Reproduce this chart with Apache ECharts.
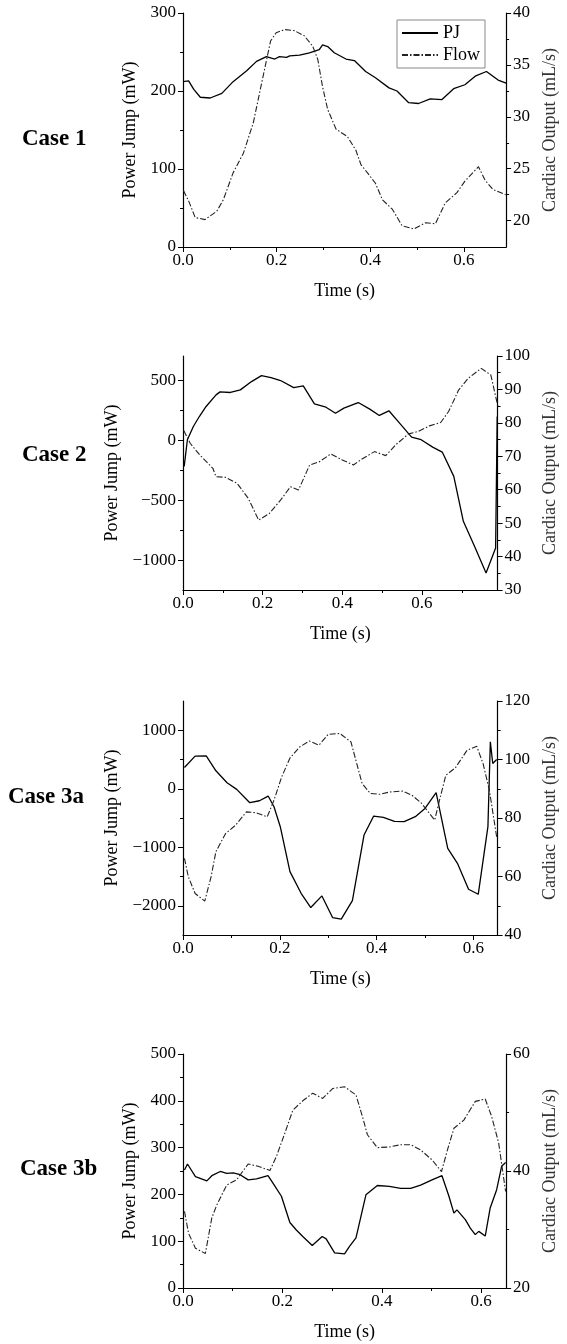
<!DOCTYPE html>
<html>
<head>
<meta charset="utf-8">
<script src="https://cdn.jsdelivr.net/npm/echarts@6/dist/echarts.min.js"></script>
<style>
html,body{margin:0;padding:0;background:#fff;}
#chart{width:567px;height:1344px;}
</style>
</head>
<body>
<div id="chart"></div>
<script>
// ---------- DATA ----------
const caseLabels = ['Case 1', 'Case 2', 'Case 3a', 'Case 3b'];

const case1PjTime = [0,0.012,0.023,0.037,0.058,0.083,0.107,0.136,0.157,0.178,0.196,0.206,0.221,0.228,0.249,0.27,0.291,0.298,0.309,0.323,0.348,0.366,0.39,0.411,0.44,0.457,0.482,0.503,0.528,0.553,0.578,0.602,0.624,0.648,0.673,0.69];
const case1Pj = [212,213,202,192,191,197,212,226,238,244,241,244,243,245,246,249,253,259,257,249,241,239,225,217,204,200,185,184,190,189,203,208,219,225,214,210];
const case1FlowTime = [0.001,0.012,0.026,0.047,0.072,0.086,0.107,0.129,0.15,0.171,0.187,0.199,0.217,0.238,0.259,0.277,0.288,0.298,0.309,0.327,0.351,0.369,0.38,0.394,0.411,0.426,0.447,0.468,0.493,0.518,0.539,0.56,0.585,0.602,0.631,0.645,0.662,0.689];
const case1Flow = [22.9,21.9,20.3,20.1,20.9,22.0,24.6,26.5,29.4,33.9,37.3,38.1,38.4,38.3,37.8,36.8,35.5,32.9,30.7,28.8,28.1,26.8,25.4,24.6,23.6,22.0,21.1,19.5,19.2,19.8,19.7,21.7,22.7,23.8,25.2,23.9,23.0,22.5];

const case2PjTime = [0.003,0.011,0.026,0.041,0.058,0.083,0.093,0.119,0.144,0.172,0.197,0.221,0.245,0.278,0.302,0.330,0.359,0.383,0.404,0.44,0.469,0.493,0.517,0.546,0.574,0.598,0.627,0.651,0.68,0.704,0.732,0.761,0.785,0.789];
const case2Pj = [-217,6,117,200,284,381,406,401,423,492,542,526,501,442,456,306,278,228,270,317,262,209,248,136,28,6,-56,-97,-300,-676,-885,-1107,-899,200];
const case2FlowTime = [0.002,0.018,0.042,0.075,0.083,0.107,0.136,0.164,0.19,0.217,0.245,0.27,0.29,0.318,0.343,0.371,0.4,0.428,0.448,0.481,0.509,0.534,0.566,0.59,0.619,0.647,0.667,0.692,0.716,0.749,0.773,0.791];
const case2Flow = [77.7,73.9,70.4,66.4,63.9,63.7,61.9,57.4,50.9,52.9,56.9,60.9,59.9,67.4,68.4,70.7,68.9,67.4,69.1,71.4,70.2,73.4,76.7,77.4,79.1,80.1,83.4,89.8,93.3,96.3,94.3,84.8];

const case3aPjTime = [0.003,0.025,0.048,0.068,0.091,0.111,0.138,0.158,0.176,0.188,0.201,0.221,0.244,0.264,0.287,0.309,0.327,0.35,0.374,0.394,0.414,0.437,0.457,0.48,0.5,0.523,0.547,0.567,0.59,0.61,0.63,0.635,0.64,0.648];
const case3aPj = [364,558,563,307,102,-11,-239,-205,-125,-307,-649,-1417,-1787,-2031,-1832,-2202,-2230,-1912,-791,-467,-489,-558,-563,-478,-336,-68,-1019,-1275,-1718,-1804,-649,802,432,500];
const case3aFlowTime = [0.003,0.011,0.025,0.045,0.058,0.068,0.088,0.109,0.131,0.151,0.174,0.188,0.204,0.221,0.241,0.261,0.281,0.3,0.324,0.347,0.36,0.37,0.387,0.407,0.427,0.454,0.473,0.493,0.52,0.53,0.543,0.563,0.587,0.607,0.62,0.633,0.648];
const case3aFlow = [66.2,59.9,54.2,51.6,59.9,68.5,74.7,77.6,82.1,81.8,80.4,86.1,94.1,100.5,104.3,106.3,104.9,108.6,108.9,106.0,98.0,91.8,88.4,88.1,88.9,89.2,87.8,85.0,79.3,86.1,94.6,97.2,103.2,104.5,98.6,89.5,73.6];

const case3bPjTime = [0.003,0.009,0.025,0.048,0.058,0.075,0.088,0.101,0.115,0.131,0.148,0.171,0.181,0.198,0.215,0.228,0.241,0.26,0.28,0.288,0.305,0.325,0.335,0.348,0.358,0.368,0.391,0.415,0.438,0.458,0.478,0.501,0.521,0.535,0.545,0.551,0.568,0.578,0.588,0.595,0.608,0.618,0.631,0.641,0.649];
const case3bPj = [252,265,238,229,240,249,245,246,242,231,233,240,224,196,140,124,110,91,110,105,75,73,89,107,153,199,219,217,213,213,220,231,240,196,160,167,146,128,114,121,111,171,210,260,268];
const case3bFlowTime = [0.003,0.011,0.025,0.045,0.058,0.068,0.088,0.108,0.131,0.151,0.175,0.188,0.205,0.221,0.241,0.261,0.281,0.301,0.325,0.348,0.361,0.371,0.391,0.415,0.438,0.458,0.478,0.501,0.52,0.531,0.545,0.565,0.588,0.608,0.621,0.635,0.649];
const case3bFlow = [33.1,29.4,26.8,25.9,32.0,34.2,37.6,38.5,41.2,40.8,40.1,42.5,46.5,50.4,52.0,53.3,52.4,54.1,54.4,53.0,49.3,46.2,44.0,44.1,44.5,44.5,43.6,41.9,39.9,43.3,47.3,48.7,51.9,52.3,49.3,44.8,36.5];

// axis ranges and ticks
const timeMax = [0.69, 0.79, 0.65, 0.65];
const timeTicks = [0, 0.2, 0.4, 0.6];
const timeMinorTicks = [[0.1,0.3,0.5],[0.1,0.3,0.5,0.7],[0.1,0.3,0.5],[0.1,0.3,0.5]];

const pjRange = [[0,300],[-1250,706],[-2500,1500],[0,500]];
const pjTicks = [[0,100,200,300],[-1000,-500,0,500],[-2000,-1000,0,1000],[0,100,200,300,400,500]];
const pjMinorTicks = [[50,150,250],[-750,-250,250],[-1500,-500,500],[50,150,250,350,450]];

const flowRange = [[17.46,40],[30,100],[40,120],[20,60]];
const flowTicks = [[20,25,30,35,40],[30,40,50,60,70,80,90,100],[40,60,80,100,120],[20,40,60]];
const flowMinorTicks = [[22.5,27.5,32.5,37.5],[35,45,55,65,75,85,95],[50,70,90,110],[30,50]];

const pjTimes = [case1PjTime, case2PjTime, case3aPjTime, case3bPjTime];
const pjValues = [case1Pj, case2Pj, case3aPj, case3bPj];
const flowTimes = [case1FlowTime, case2FlowTime, case3aFlowTime, case3bFlowTime];
const flowValues = [case1Flow, case2Flow, case3aFlow, case3bFlow];

// ---------- LAYOUT ----------
const FONT = '"Liberation Serif", "Times New Roman", serif';
const gridTops = [13, 356, 701, 1054];
const caseLabelY = [140, 456, 798, 1170];
const caseLabelX = [22, 22, 8, 20];

const zip = (a, b) => a.map((v, i) => [v, b[i]]);
const minus = v => String(v).replace('-', '\u2212');

const grid = [], xAxis = [], yAxis = [], series = [], graphic = [];
for (let i = 0; i < 4; i++) {
  grid.push({left: 183, top: gridTops[i], width: 325, height: 234, containLabel: false});
  const line = {show: true, onZero: false, lineStyle: {color: '#000', width: 1.2}};
  // main x
  xAxis.push({
    type: 'value', gridIndex: i, position: 'bottom', min: 0, max: timeMax[i],
    name: 'Time (s)', nameLocation: 'middle', nameGap: 35,
    nameTextStyle: {fontFamily: FONT, fontSize: 18, color: '#000'},
    axisLine: line,
    axisTick: {show: true, length: 5, customValues: timeTicks, lineStyle: {color: '#000', width: 1}},
    axisLabel: {customValues: timeTicks, fontFamily: FONT, fontSize: 17, color: '#000', margin: 5,
      formatter: v => v.toFixed(1)},
    splitLine: {show: false}
  });
  // minor x
  xAxis.push({
    type: 'value', gridIndex: i, position: 'bottom', min: 0, max: timeMax[i],
    axisLine: {show: false, onZero: false},
    axisTick: {show: true, length: 3, customValues: timeMinorTicks[i], lineStyle: {color: '#000', width: 1}},
    axisLabel: {show: false}, splitLine: {show: false}
  });
  // main left
  yAxis.push({
    type: 'value', gridIndex: i, position: 'left', min: pjRange[i][0], max: pjRange[i][1],
    name: 'Power Jump (mW)', nameLocation: 'middle', nameGap: 35, nameRotate: 90,
    nameTextStyle: {fontFamily: FONT, fontSize: 18, color: '#000'},
    axisLine: line,
    axisTick: {show: true, length: 5, customValues: pjTicks[i], lineStyle: {color: '#000', width: 1}},
    axisLabel: {customValues: pjTicks[i], fontFamily: FONT, fontSize: 17, color: '#000', margin: 7,
      formatter: v => minus(v)},
    splitLine: {show: false}
  });
  // minor left
  yAxis.push({
    type: 'value', gridIndex: i, position: 'left', min: pjRange[i][0], max: pjRange[i][1],
    axisLine: {show: false, onZero: false},
    axisTick: {show: true, length: 3, customValues: pjMinorTicks[i], lineStyle: {color: '#000', width: 1}},
    axisLabel: {show: false}, splitLine: {show: false}
  });
  // main right
  yAxis.push({
    type: 'value', gridIndex: i, position: 'right', min: flowRange[i][0], max: flowRange[i][1],
    name: 'Cardiac Output (mL/s)', nameLocation: 'middle', nameGap: 31, nameRotate: 90,
    nameTextStyle: {fontFamily: FONT, fontSize: 18, color: '#333'},
    axisLine: line,
    axisTick: {show: true, length: 5, customValues: flowTicks[i], lineStyle: {color: '#000', width: 1}},
    axisLabel: {customValues: flowTicks[i], fontFamily: FONT, fontSize: 17, color: '#000', margin: 7},
    splitLine: {show: false}
  });
  // minor right
  yAxis.push({
    type: 'value', gridIndex: i, position: 'right', min: flowRange[i][0], max: flowRange[i][1],
    axisLine: {show: false, onZero: false},
    axisTick: {show: true, length: 3, customValues: flowMinorTicks[i], lineStyle: {color: '#000', width: 1}},
    axisLabel: {show: false}, splitLine: {show: false}
  });

  series.push({
    name: 'PJ', type: 'line', xAxisIndex: 2 * i, yAxisIndex: 4 * i,
    data: zip(pjTimes[i], pjValues[i]), symbol: 'none', smooth: false,
    lineStyle: {color: '#000', width: 1.3}, itemStyle: {color: '#000'}
  });
  series.push({
    name: 'Flow', type: 'line', xAxisIndex: 2 * i, yAxisIndex: 4 * i + 2,
    data: zip(flowTimes[i], flowValues[i]), symbol: 'none', smooth: false,
    lineStyle: {color: '#222', width: 1.1, type: [6, 2, 1.5, 2]}, itemStyle: {color: '#222'}
  });

  graphic.push({
    type: 'text', left: caseLabelX[i], top: caseLabelY[i] - 12,
    style: {text: caseLabels[i], font: 'bold 23px ' + FONT, fill: '#000'}
  });
}

const chart = echarts.init(document.getElementById('chart'), null, {renderer: 'canvas'});
chart.setOption({
  animation: false,
  backgroundColor: '#fff',
  grid, xAxis, yAxis, series, graphic,
  legend: {
    data: ['PJ', 'Flow'], orient: 'vertical', left: 397, top: 20,
    borderColor: '#888', borderWidth: 1, borderRadius: 0, padding: [4, 5, 4, 4],
    itemWidth: 36, itemHeight: 10, itemGap: 4,
    itemStyle: {opacity: 0},
    textStyle: {fontFamily: FONT, fontSize: 18, color: '#000'}
  }
});
</script>
</body>
</html>
